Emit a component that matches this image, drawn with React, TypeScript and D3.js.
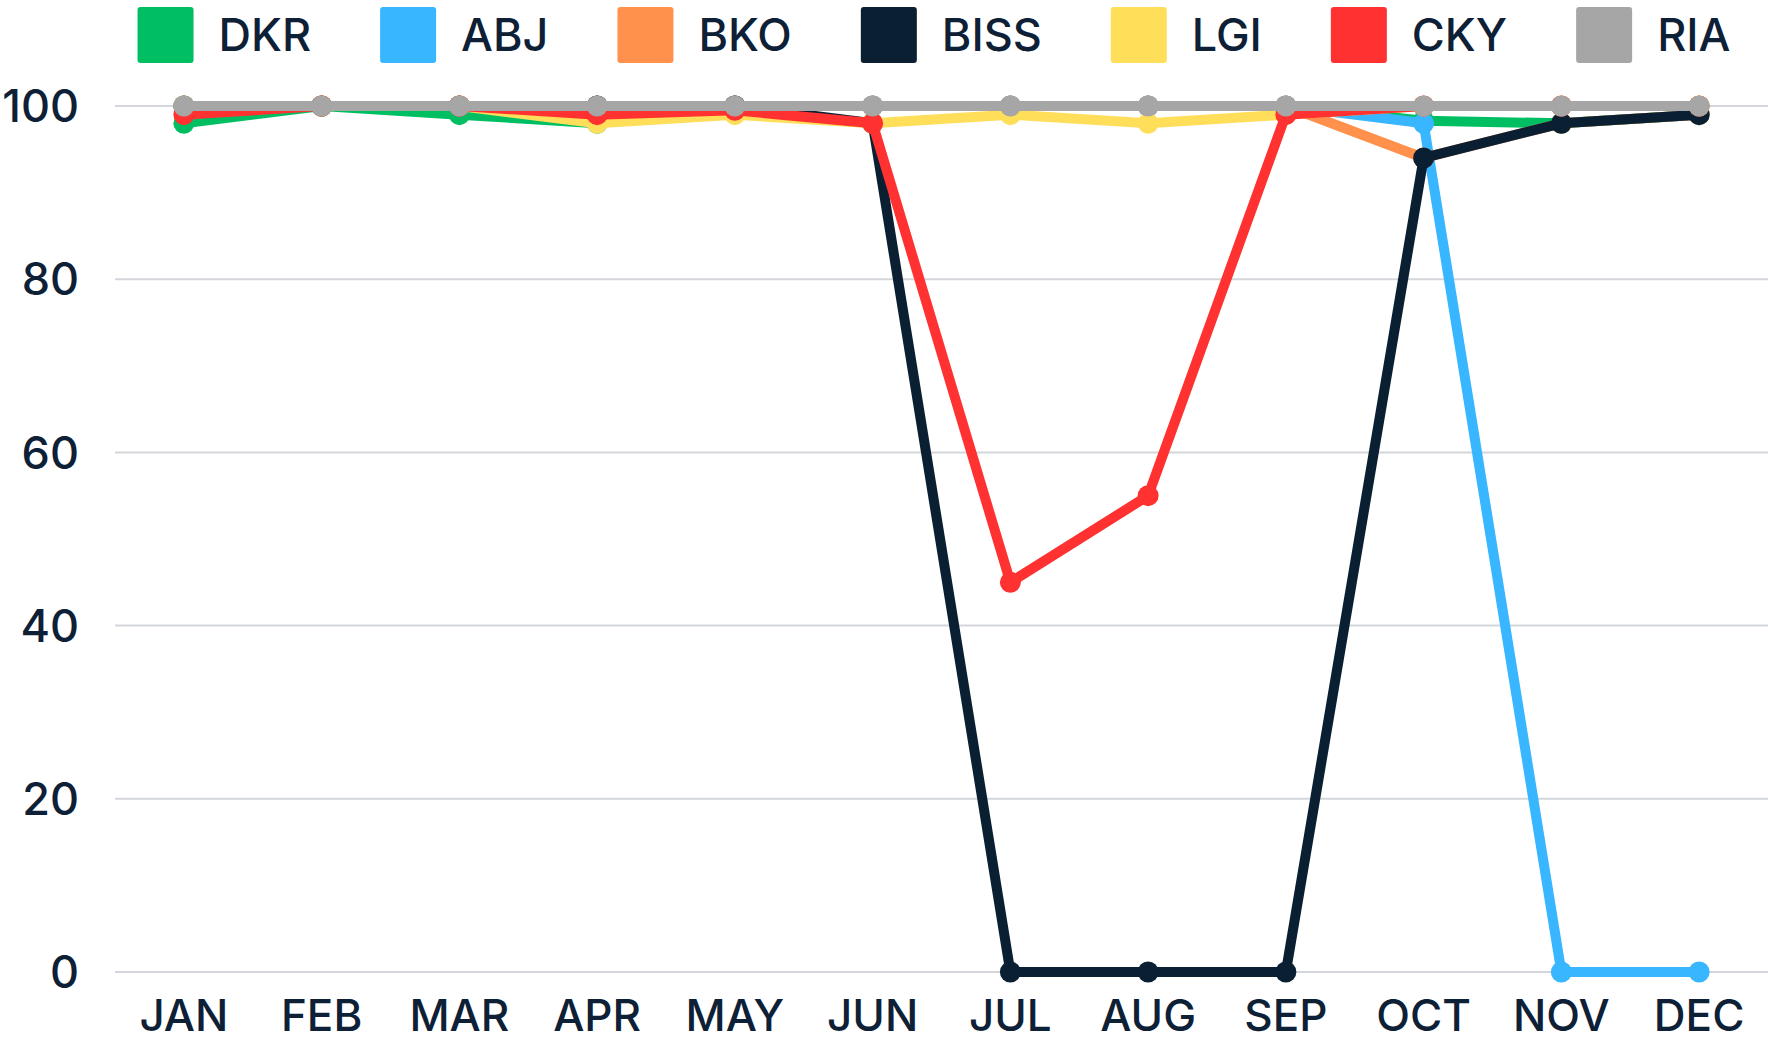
import React, { useMemo } from "react";
import * as d3 from "d3";

const months = ["JAN", "FEB", "MAR", "APR", "MAY", "JUN", "JUL", "AUG", "SEP", "OCT", "NOV", "DEC"];
const seriesNames = ["DKR", "ABJ", "BKO", "BISS", "LGI", "CKY", "RIA"];
const seriesColors = ["#00bf63", "#38b6ff", "#ff914d", "#0b1f33", "#ffde59", "#ff3131", "#a6a6a6"];

const DKR = [98, 100, 99, 98, 100, 100, 100, 100, 100, 98.3, 98, 99];
const ABJ = [100, 100, 100, 100, 100, 100, 100, 100, 100, 98, 0, 0];
const BKO = [100, 100, 100, 100, 100, 100, 100, 100, 100, 94, 98, 99];
const BISS = [100, 100, 100, 100, 100, 98, 0, 0, 0, 94, 98, 99];
const LGI = [100, 100, 100, 98, 99, 98, 99, 98, 99, 100, 100, 100];
const CKY = [99, 100, 100, 99, 99.5, 98, 45, 55, 99, 100, 100, 100];
const RIA = [100, 100, 100, 100, 100, 100, 100, 100, 100, 100, 100, 100];

const seriesValues = [DKR, ABJ, BKO, BISS, LGI, CKY, RIA];
const yTicks = [0, 20, 40, 60, 80, 100];

const W = 1768;
const H = 1041;
const FONT = "Inter, 'Open Sans', sans-serif";
const TEXT = "#0d2036";

function measure(text: string, font: string) {
  if (typeof document === "undefined") return text.length * 28;
  const c = document.createElement("canvas");
  const ctx = c.getContext("2d");
  if (!ctx) return text.length * 28;
  ctx.font = font;
  return ctx.measureText(text).width;
}

export default function App() {
  const margin = { left: 115, right: 0, top: 106, bottom: 69 };
  const x = d3.scaleBand<string>().domain(months).range([margin.left, W - margin.right]);
  const y = d3.scaleLinear().domain([0, 100]).range([H - margin.bottom, margin.top]);
  const cx = (m: string) => (x(m) as number) + x.bandwidth() / 2;

  const line = d3
    .line<number>()
    .x((_, i) => cx(months[i]))
    .y((v) => y(v));

  const legend = useMemo(() => {
    const sq = 56;
    const gap1 = 25;
    const gap2 = 69;
    const widths = seriesNames.map((n) => measure(n, `500 45px Inter`));
    const total = widths.reduce((a, w) => a + sq + gap1 + w, 0) + gap2 * (seriesNames.length - 1);
    let xx = 934 - total / 2;
    return seriesNames.map((n, i) => {
      const item = { name: n, color: seriesColors[i], x: xx, tx: xx + sq + gap1 };
      xx += sq + gap1 + widths[i] + gap2;
      return item;
    });
  }, []);

  return (
    <svg
      width={W}
      height={H}
      style={{ position: "absolute", left: 0, top: 0, background: "#fff" }}
      fontFamily={FONT}
    >
      {yTicks.map((t) => (
        <g key={t}>
          <line x1={margin.left} x2={W} y1={y(t)} y2={y(t)} stroke="#d3d6da" strokeWidth={2} />
          <text
            x={79}
            y={y(t)}
            dy="0.36em"
            textAnchor="end"
            fontSize={45}
            fontWeight={500}
            fill={TEXT}
          >
            {t}
          </text>
        </g>
      ))}
      {months.map((m) => (
        <text key={m} x={cx(m)} y={1031} textAnchor="middle" fontSize={44} fontWeight={500} fill={TEXT}>
          {m}
        </text>
      ))}
      {seriesValues.map((vals, si) => (
        <g key={seriesNames[si]}>
          <path
            d={line(vals) || ""}
            fill="none"
            stroke={seriesColors[si]}
            strokeWidth={10}
            strokeLinejoin="round"
          />
          {vals.map((v, i) => (
            <circle key={i} cx={cx(months[i])} cy={y(v)} r={10.5} fill={seriesColors[si]} />
          ))}
        </g>
      ))}
      {legend.map((l) => (
        <g key={l.name}>
          <rect x={l.x} y={7} width={56} height={56} rx={3} fill={l.color} />
          <text x={l.tx} y={51} fontSize={45} fontWeight={500} fill={TEXT}>
            {l.name}
          </text>
        </g>
      ))}
    </svg>
  );
}
